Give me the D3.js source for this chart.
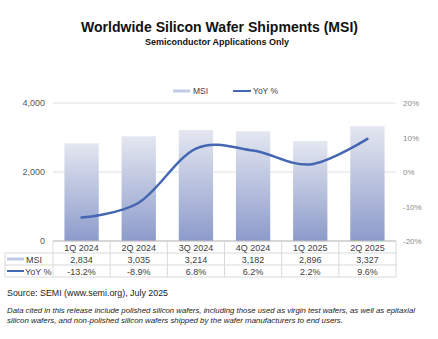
<!DOCTYPE html>
<html><head><meta charset="utf-8">
<script src="https://cdn.jsdelivr.net/npm/d3@7"></script>
<style>html,body{margin:0;padding:0;background:#fff;}svg{display:block;font-family:"Liberation Sans",Arial,sans-serif;}</style>
</head><body>
<svg id="c" width="438" height="339"></svg>
<script>
const categories = ["1Q 2024","2Q 2024","3Q 2024","4Q 2024","1Q 2025","2Q 2025"];
const msi = [2834, 3035, 3214, 3182, 2896, 3327];
const yoy = [-13.2, -8.9, 6.8, 6.2, 2.2, 9.6];
const msiLabels = ["2,834","3,035","3,214","3,182","2,896","3,327"];
const yoyLabels = ["-13.2%","-8.9%","6.8%","6.2%","2.2%","9.6%"];
const leftTicks = [0, 2000, 4000];
const rightTicks = [-20, -10, 0, 10, 20];

const svg = d3.select("#c");
const L = 53, R = 396, T = 103, B = 241;

const x = d3.scaleBand().domain(categories).range([L, R]).paddingInner(0.4).paddingOuter(0.2);
const y = d3.scaleLinear().domain([0, 4000]).range([B, T]);
const y2 = d3.scaleLinear().domain([-20, 20]).range([B, T]);

// title
svg.append("text").attr("x", 219.5).attr("y", 32).attr("text-anchor", "middle")
  .attr("font-size", 14.5).attr("font-weight", "bold").attr("fill", "#111")
  .attr("textLength", 277).attr("lengthAdjust", "spacingAndGlyphs")
  .text("Worldwide Silicon Wafer Shipments (MSI)");
svg.append("text").attr("x", 217).attr("y", 45).attr("text-anchor", "middle")
  .attr("font-size", 9.3).attr("font-weight", "bold").attr("fill", "#111")
  .attr("textLength", 144).attr("lengthAdjust", "spacingAndGlyphs")
  .text("Semiconductor Applications Only");

// gradient
const defs = svg.append("defs");
const g = defs.append("linearGradient").attr("id", "bg").attr("x1", 0).attr("y1", 0).attr("x2", 0).attr("y2", 1);
g.append("stop").attr("offset", "0%").attr("stop-color", "#e4e7f1");
g.append("stop").attr("offset", "100%").attr("stop-color", "#8c9bca");

// gridlines
svg.append("g").selectAll("line").data(leftTicks).join("line")
  .attr("x1", L).attr("x2", R).attr("y1", d => y(d)).attr("y2", d => y(d))
  .attr("stroke", "#e0e0e0").attr("stroke-width", 1);

// left axis
const la = svg.append("g").attr("transform", `translate(${L},0)`)
  .call(d3.axisLeft(y).tickValues(leftTicks).tickSize(0).tickPadding(8).tickFormat(d3.format(",")));
la.select(".domain").remove();
la.selectAll("text").attr("font-size", 9).attr("fill", "#595959").attr("font-family", "'Liberation Sans',Arial,sans-serif");

// right axis
const ra = svg.append("g").attr("transform", `translate(${R},0)`)
  .call(d3.axisRight(y2).tickValues(rightTicks).tickSize(0).tickPadding(7).tickFormat(d => d + "%"));
ra.select(".domain").remove();
ra.selectAll("text").attr("font-size", 8).attr("fill", "#8a8a8a").attr("font-family", "'Liberation Sans',Arial,sans-serif");

// bars
svg.append("g").selectAll("rect").data(msi).join("rect")
  .attr("x", (d, i) => x(categories[i])).attr("width", x.bandwidth())
  .attr("y", d => y(d)).attr("height", d => y(0) - y(d))
  .attr("fill", "url(#bg)");

// line
const line = d3.line().x((d, i) => x(categories[i]) + x.bandwidth() / 2).y(d => y2(d))
  .curve(d3.curveCardinal.tension(0));
svg.append("path").datum(yoy).attr("d", line).attr("fill", "none")
  .attr("stroke", "#4566b2").attr("stroke-width", 2.5).attr("stroke-linecap", "round");

// legend
const leg = svg.append("g");
leg.append("rect").attr("x", 173).attr("y", 89.5).attr("width", 17).attr("height", 3).attr("fill", "#c3cae3");
leg.append("text").attr("x", 193).attr("y", 94).attr("font-size", 8.5).attr("fill", "#404040").text("MSI");
leg.append("line").attr("x1", 233).attr("x2", 251).attr("y1", 91).attr("y2", 91).attr("stroke", "#4566b2").attr("stroke-width", 2);
leg.append("text").attr("x", 253).attr("y", 94).attr("font-size", 8.5).attr("fill", "#404040").text("YoY %");

// table
const step = x.step();
const colX = i => L + i * step;
const rowY = [241, 253, 265, 277];
const tb = svg.append("g");
const bc = "#d9d9d9";
tb.append("line").attr("x1", L).attr("x2", R).attr("y1", rowY[0]).attr("y2", rowY[0]).attr("stroke", "#bfbfbf");
[1, 2, 3].forEach(k => {
  tb.append("line").attr("x1", 5).attr("x2", R).attr("y1", rowY[k]).attr("y2", rowY[k]).attr("stroke", bc);
});
d3.range(categories.length + 1).forEach(i => {
  tb.append("line").attr("x1", colX(i)).attr("x2", colX(i)).attr("y1", rowY[0]).attr("y2", rowY[3]).attr("stroke", bc);
});
tb.append("line").attr("x1", 5).attr("x2", 5).attr("y1", rowY[1]).attr("y2", rowY[3]).attr("stroke", bc);

tb.selectAll("text.cat").data(categories).join("text").attr("class", "cat")
  .attr("x", (d, i) => colX(i) + step / 2).attr("y", 250.5).attr("text-anchor", "middle")
  .attr("font-size", 9).attr("fill", "#404040").text(d => d);
tb.selectAll("text.msi").data(msiLabels).join("text").attr("class", "msi")
  .attr("x", (d, i) => colX(i) + step / 2).attr("y", 262.5).attr("text-anchor", "middle")
  .attr("font-size", 9).attr("fill", "#404040").text(d => d);
tb.selectAll("text.yoy").data(yoyLabels).join("text").attr("class", "yoy")
  .attr("x", (d, i) => colX(i) + step / 2).attr("y", 274.5).attr("text-anchor", "middle")
  .attr("font-size", 9).attr("fill", "#404040").text(d => d);

tb.append("rect").attr("x", 7).attr("y", 257.5).attr("width", 17).attr("height", 3).attr("fill", "#c3cae3");
tb.append("text").attr("x", 26).attr("y", 262.5).attr("font-size", 9).attr("fill", "#404040").text("MSI");
tb.append("line").attr("x1", 7).attr("x2", 24).attr("y1", 271).attr("y2", 271).attr("stroke", "#4566b2").attr("stroke-width", 2);
tb.append("text").attr("x", 25).attr("y", 274.5).attr("font-size", 9).attr("fill", "#404040").text("YoY %");

// source + note
svg.append("text").attr("x", 7).attr("y", 296).attr("font-size", 9.3).attr("fill", "#222")
  .attr("textLength", 161).attr("lengthAdjust", "spacingAndGlyphs")
  .text("Source: SEMI (www.semi.org), July 2025");
const note = svg.append("text").attr("font-size", 8).attr("font-style", "italic").attr("fill", "#222");
note.append("tspan").attr("x", 7).attr("y", 313).attr("textLength", 408).attr("lengthAdjust", "spacingAndGlyphs")
  .text("Data cited in this release include polished silicon wafers, including those used as virgin test wafers, as well as epitaxial");
note.append("tspan").attr("x", 7).attr("y", 323).attr("textLength", 336).attr("lengthAdjust", "spacingAndGlyphs")
  .text("silicon wafers, and non-polished silicon wafers shipped by the wafer manufacturers to end users.");
</script>
</body></html>
